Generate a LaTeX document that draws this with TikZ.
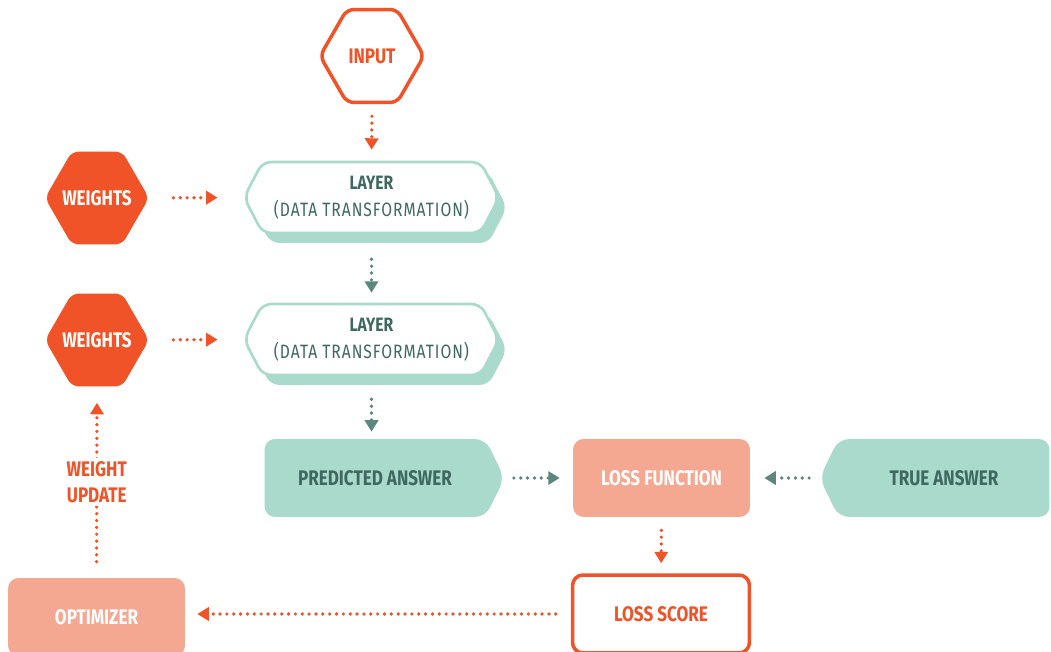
\documentclass[tikz,border=0pt]{standalone}
\usepackage{fontspec}
\setmainfont{Fira Sans}[FakeStretch=0.81]
\usepackage{tikz}
\usetikzlibrary{positioning, arrows.meta, shapes, shadows}
\definecolor{tomate}{RGB}{240, 83, 40}
\definecolor{salmon}{RGB}{245, 168, 145}
\definecolor{menta}{RGB}{170, 218, 203}
\definecolor{pino}{RGB}{62, 104, 96}
\definecolor{musgo}{RGB}{92, 135, 125}
\tikzset{
    hexa/.style={signal, signal to=east and west, signal pointer angle=120, rounded corners=4pt, minimum width=2.08cm, minimum height=1.86cm, inner ysep=0pt, inner xsep=-0.3cm, font=\bfseries\fontsize{12}{14}\selectfont},
    hexaIn/.style={hexa, draw=tomate, line width=2pt, fill=white, text=tomate},
    hexaW/.style={hexa, fill=tomate, text=white},
    capa/.style={signal, signal to=east and west, signal pointer angle=125, rounded corners=5pt, draw=menta, line width=1.5pt, fill=white, text=pino, minimum width=5.1cm, minimum height=1.42cm, inner sep=0pt, align=center, font=\fontsize{11}{15.3}\selectfont, general shadow={fill=menta, shadow xshift=0.16cm, shadow yshift=-0.2cm}},
    resp/.style={signal, signal pointer angle=128, rounded corners=6pt, fill=menta, text=pino, minimum height=1.56cm, inner sep=0pt, font=\bfseries\fontsize{12}{14}\selectfont},
    caja/.style={rectangle, rounded corners=6pt, minimum width=3.54cm, minimum height=1.56cm, inner sep=0pt, font=\bfseries\fontsize{12}{14}\selectfont},
    conn/.style={-{Triangle[length=6.5pt,width=7.5pt]}, tomate, line width=2.1pt, line cap=round, dash pattern=on 0pt off 3.9pt},
    connG/.style={conn, musgo},
}
\newcommand{\capatxt}{\textbf{LAYER}\\{\addfontfeature{LetterSpace=5}(DATA TRANSFORMATION)}}
\begin{document}
\begin{tikzpicture}[x=0.02cm, y=-0.02cm]
    \useasboundingbox (0,0) rectangle (1051,652);
    \clip (0,0) rectangle (1051,652);

    \node[hexaIn] (in) at (372,56) {INPUT};
    \node[hexaW] (w1) at (97,198) {WEIGHTS};
    \node[hexaW] (w2) at (97,340) {WEIGHTS};

    \node[capa] (l1) at (371.5,197.5) {\capatxt};
    \node[capa] (l2) at (371.5,339.5) {\capatxt};

    \node[resp, signal to=east, minimum width=4.8cm] (pred) at (375,478) {PREDICTED ANSWER};
    \node[resp, signal to=west, minimum width=4.6cm] (true) at (944,478) {TRUE ANSWER};
    \node[caja, fill=salmon, text=white] (lossf) at (661.5,478) {LOSS FUNCTION};
    \node[caja, draw=tomate, line width=2pt, fill=white, text=tomate] (lossc) at (661,614) {LOSS SCORE};
    \node[caja, fill=salmon, text=white] (opt) at (96.5,617) {OPTIMIZER};

    \draw[conn, shorten <=0.24cm, shorten >=0.22cm] (in.south) -- (l1.north);
    \draw[conn, shorten <=0.48cm, shorten >=0.5cm] (w1.east) -- (l1.west);
    \draw[conn, shorten <=0.48cm, shorten >=0.5cm] (w2.east) -- (l2.west);

    \draw[connG, shorten <=0.5cm, shorten >=0.2cm] (l1.south) -- (l2.north);
    \draw[connG, shorten <=0.46cm, shorten >=0.14cm] (l2.south) -- (pred.north -| l2.south);
    \draw[connG, shorten <=0.18cm, shorten >=0.26cm] (pred.east) -- (lossf.west);
    \draw[connG, shorten <=0.2cm, shorten >=0.28cm] (true.west) -- (lossf.east);

    \draw[conn, shorten <=0.26cm, shorten >=0.2cm] (lossf.south) -- (lossc.north);
    \draw[conn, shorten <=0.3cm, shorten >=0.24cm] (lossc.west) -- (lossc.west -| opt.east);
    \draw[conn, shorten <=0.32cm, shorten >=0.32cm] (opt.north) -- (w2.south)
        node[midway, fill=white, text=tomate, align=center, inner sep=2pt, font=\bfseries\fontsize{12}{14.7}\selectfont] (wu) {WEIGHT\\UPDATE};
\end{tikzpicture}
\end{document}
